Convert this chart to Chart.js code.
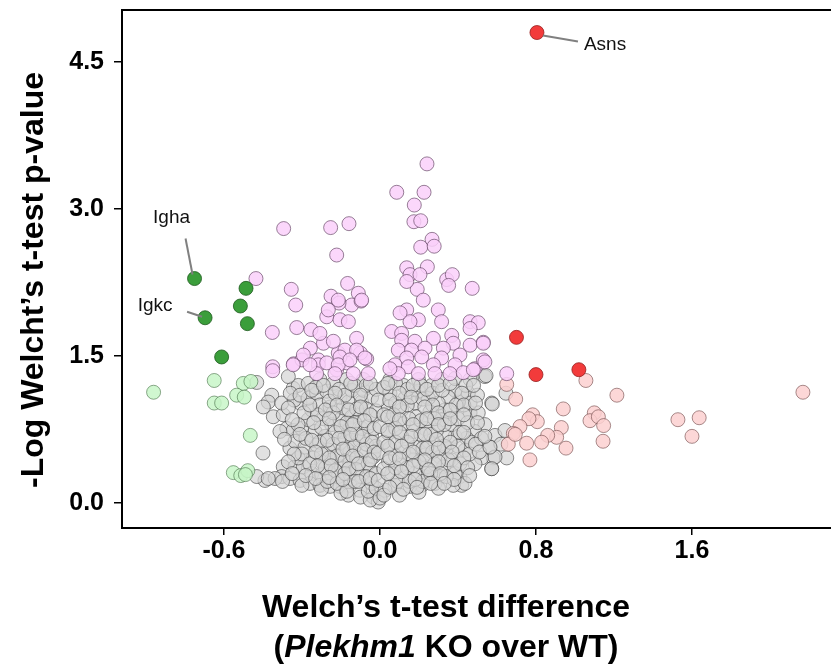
<!DOCTYPE html>
<html>
<head>
<meta charset="utf-8">
<script src="https://cdn.jsdelivr.net/npm/chart.js@4.4.1/dist/chart.umd.min.js"></script>
<style>
body { margin: 0; background: #fff; }
</style>
</head>
<body>
<canvas id="canvas_0" width="831" height="666"></canvas>
<script>
var FONT = "'Liberation Sans', Arial, sans-serif";

// axis ticks (the first tick label reads -0.6 in the original figure)
var xTickValues = [-0.8, 0, 0.8, 1.6];
var xTickLabels = ['-0.6', '0.0', '0.8', '1.6'];
var yTickValues = [0, 1.5, 3.0, 4.5];
var yTickLabels = ['0.0', '1.5', '3.0', '4.5'];

var yTitle = '-Log Welcht\u2019s t-test p-value';
var xTitle1 = 'Welch\u2019s t-test difference';
var xTitle2 = [['(', false], ['Plekhm1', true], [' KO over WT)', false]];

// significant up (red) and down (dark green) hits, [difference, -log p]
var upHits = [[0.805, 4.80], [0.70, 1.69], [0.80, 1.31], [1.02, 1.36]];
var downHits = [[-0.951, 2.29], [-0.687, 2.19], [-0.716, 2.01], [-0.897, 1.89], [-0.680, 1.83], [-0.812, 1.49]];

// named hits: [group, index, text]
var hitNames = [['up', 0, 'Asns'], ['down', 0, 'Igha'], ['down', 3, 'Igkc']];

var lightGreen = [[-1.161, 1.13], [-0.850, 1.25], [-0.701, 1.22], [-0.662, 1.24], [-0.735, 1.10], [-0.696, 1.08],
  [-0.850, 1.02], [-0.812, 1.02], [-0.665, 0.69], [-0.752, 0.31], [-0.714, 0.28], [-0.678, 0.33], [-0.69, 0.29]];

var lightRed = [[2.169, 1.13], [1.528, 0.85], [1.637, 0.87], [1.60, 0.68], [1.056, 1.25], [1.215, 1.10], [0.94, 0.96],
  [1.099, 0.92], [1.077, 0.84], [1.12, 0.88], [1.147, 0.79], [1.144, 0.63], [0.93, 0.77], [0.954, 0.56], [0.906, 0.67],
  [0.86, 0.69], [0.829, 0.62], [0.752, 0.61], [0.769, 0.44], [0.783, 0.90], [0.807, 0.83], [0.764, 0.86], [0.718, 0.78],
  [0.684, 0.71], [0.658, 0.60], [0.696, 1.06], [0.65, 1.21], [0.694, 0.70]];

var pinkPoints = [
  [-0.494, 2.80], [-0.636, 2.29], [-0.455, 2.18], [-0.432, 2.02], [-0.552, 1.74], [-0.427, 1.79], [-0.354, 1.77],
  [-0.357, 1.58], [-0.443, 1.42], [-0.40, 1.46], [-0.55, 1.39], [-0.55, 1.35],
  [-0.253, 2.81], [-0.159, 2.85], [-0.222, 2.53],
  [-0.166, 2.24], [-0.111, 2.14], [-0.145, 2.02], [-0.251, 2.11], [-0.21, 2.04], [-0.097, 2.06], [-0.273, 1.90],
  [-0.205, 1.87], [-0.162, 1.85], [-0.12, 1.68], [-0.29, 1.63], [-0.393, 1.51], [-0.316, 1.46], [-0.214, 1.53],
  [-0.171, 1.43], [-0.137, 1.32], [-0.222, 1.36], [-0.068, 1.47], [-0.10, 1.53],
  [-0.445, 1.41], [-0.308, 1.73], [-0.316, 1.41], [-0.265, 1.97], [-0.214, 2.07], [-0.239, 1.65], [-0.18, 1.56],
  [-0.12, 1.56], [-0.077, 1.48], [-0.205, 1.49], [-0.273, 1.43], [-0.214, 1.41], [-0.154, 1.46], [-0.231, 1.32],
  [-0.325, 1.32], [-0.359, 1.41], [-0.06, 1.32], [-0.094, 2.07],
  [0.241, 3.46], [0.086, 3.17], [0.226, 3.17], [0.176, 3.04], [0.174, 2.87], [0.209, 2.88], [0.267, 2.69],
  [0.209, 2.61], [0.278, 2.62], [0.137, 2.40], [0.243, 2.41], [0.154, 2.33], [0.205, 2.33], [0.191, 2.18],
  [0.342, 2.28], [0.371, 2.33], [0.352, 2.22], [0.473, 2.19],
  [0.137, 2.26], [0.222, 2.07], [0.137, 1.97], [0.299, 1.97], [0.197, 1.87], [0.154, 1.85], [0.316, 1.85],
  [0.462, 1.85], [0.504, 1.84], [0.462, 1.78], [0.06, 1.75], [0.111, 1.73], [0.368, 1.71], [0.111, 1.66],
  [0.179, 1.65], [0.274, 1.68], [0.376, 1.63], [0.462, 1.61], [0.53, 1.64], [0.094, 1.56], [0.162, 1.56],
  [0.231, 1.58], [0.325, 1.58], [0.41, 1.51], [0.137, 1.48], [0.214, 1.49], [0.316, 1.48], [0.077, 1.41],
  [0.145, 1.39], [0.274, 1.41], [0.385, 1.41], [0.487, 1.37], [0.53, 1.46], [0.094, 1.32], [0.197, 1.32],
  [0.282, 1.32], [0.359, 1.32], [0.427, 1.33], [0.051, 1.37], [0.103, 1.94], [0.538, 1.44], [0.479, 1.36],
  [0.65, 1.32], [0.53, 1.63]];

var grayPoints = [
  [-0.632, 1.23], [-0.60, 0.51], [-0.59, 0.23], [-0.632, 0.27],
  [-0.555, 1.10], [-0.573, 1.03], [-0.598, 0.98], [-0.547, 0.88], [-0.496, 0.90], [-0.504, 1.02], [-0.445, 1.17],
  [-0.419, 1.20], [-0.47, 1.29], [-0.41, 1.02], [-0.478, 0.76], [-0.445, 0.74], [-0.513, 0.73], [-0.462, 0.56],
  [-0.496, 0.37], [-0.504, 0.27], [-0.538, 0.25], [-0.573, 0.25], [-0.462, 0.25], [-0.41, 0.23], [-0.436, 0.37],
  [-0.393, 0.37], [-0.419, 0.46], [-0.436, 0.63], [-0.385, 0.57], [-0.402, 0.76], [-0.368, 0.85], [-0.35, 0.95],
  [-0.368, 1.07], [-0.368, 1.22], [-0.308, 1.26], [-0.325, 1.12], [-0.273, 1.14], [-0.308, 1.00], [-0.256, 0.98],
  [-0.29, 0.86], [-0.248, 0.80], [-0.333, 0.73], [-0.282, 0.68], [-0.325, 0.59], [-0.265, 0.54], [-0.342, 0.46],
  [-0.299, 0.42], [-0.248, 0.44], [-0.35, 0.30], [-0.299, 0.29], [-0.248, 0.29], [-0.359, 0.20], [-0.308, 0.18],
  [-0.256, 0.17], [-0.205, 0.17], [-0.214, 0.27], [-0.197, 0.37], [-0.197, 0.49], [-0.205, 0.61], [-0.197, 0.73],
  [-0.205, 0.85], [-0.188, 0.97], [-0.205, 1.08], [-0.239, 1.22], [-0.171, 1.26], [-0.162, 1.03], [-0.145, 1.15],
  [-0.145, 0.88], [-0.154, 0.76], [-0.145, 0.64], [-0.154, 0.52], [-0.154, 0.41], [-0.154, 0.29], [-0.154, 0.18],
  [-0.162, 0.08], [-0.103, 0.13], [-0.094, 0.27], [-0.103, 0.41], [-0.094, 0.51], [-0.103, 0.64], [-0.094, 0.76],
  [-0.103, 0.90], [-0.094, 1.03], [-0.085, 1.15], [-0.085, 1.26], [-0.043, 1.08], [-0.034, 0.88], [-0.043, 0.68],
  [-0.034, 0.47], [-0.051, 0.34], [-0.043, 0.20], [-0.034, 0.06], [-0.009, 0.01],
  [-0.5, 0.22], [-0.4, 0.18], [-0.3, 0.14], [-0.2, 0.10], [-0.1, 0.06], [-0.05, 0.03],
  [-0.44, 1.05], [-0.39, 0.92], [-0.42, 0.80], [-0.38, 0.66], [-0.40, 0.50], [-0.36, 0.40], [-0.38, 0.28],
  [-0.33, 1.18], [-0.32, 0.90], [-0.30, 0.77], [-0.31, 0.62], [-0.30, 0.50], [-0.28, 0.36], [-0.27, 0.22],
  [-0.26, 1.04], [-0.24, 0.92], [-0.23, 0.72], [-0.24, 0.60], [-0.22, 0.48], [-0.23, 0.33], [-0.22, 0.20],
  [-0.21, 1.16], [-0.18, 1.10], [-0.17, 0.82], [-0.18, 0.67], [-0.17, 0.55], [-0.18, 0.43], [-0.18, 0.30],
  [-0.17, 0.12], [-0.13, 1.20], [-0.12, 0.96], [-0.13, 0.82], [-0.12, 0.70], [-0.13, 0.58], [-0.12, 0.46],
  [-0.12, 0.34], [-0.13, 0.22], [-0.07, 1.20], [-0.07, 0.96], [-0.06, 0.78], [-0.07, 0.60], [-0.06, 0.40],
  [-0.07, 0.27], [-0.06, 0.12], [-0.02, 1.16], [-0.02, 0.94], [-0.02, 0.58], [-0.02, 0.30], [-0.02, 0.15],
  [-0.46, 1.12], [-0.41, 1.10], [-0.35, 1.15], [-0.29, 1.20], [-0.23, 1.12], [-0.15, 1.22], [-0.10, 1.10],
  [-0.05, 1.22], [-0.47, 0.97], [-0.36, 1.00], [-0.28, 0.95], [-0.22, 1.00], [-0.16, 0.95], [-0.10, 0.98],
  [-0.05, 0.90], [-0.45, 0.85], [-0.34, 0.82], [-0.26, 0.86], [-0.20, 0.78], [-0.14, 0.80], [-0.08, 0.84],
  [-0.03, 0.76], [-0.49, 0.65], [-0.41, 0.70], [-0.35, 0.64], [-0.27, 0.64], [-0.21, 0.66], [-0.15, 0.70],
  [-0.09, 0.68], [-0.04, 0.62], [-0.44, 0.50], [-0.33, 0.52], [-0.26, 0.46], [-0.19, 0.55], [-0.14, 0.48],
  [-0.08, 0.54], [-0.03, 0.52], [-0.47, 0.42], [-0.32, 0.38], [-0.25, 0.38], [-0.16, 0.35], [-0.11, 0.40],
  [-0.05, 0.44], [-0.45, 0.30], [-0.33, 0.25], [-0.26, 0.26], [-0.19, 0.24], [-0.11, 0.22], [-0.05, 0.25],
  [0.573, 1.02], [0.538, 0.80], [0.59, 0.69], [0.564, 0.57], [0.581, 0.46], [0.573, 0.35], [0.521, 0.46],
  [0.487, 0.40], [0.487, 0.73], [0.444, 0.66], [0.436, 0.54], [0.41, 0.27], [0.419, 0.18], [0.385, 0.30],
  [0.368, 0.44], [0.342, 0.56], [0.385, 0.68], [0.333, 0.69], [0.368, 0.80], [0.462, 0.92], [0.504, 0.92],
  [0.453, 1.12], [0.462, 1.02], [0.402, 1.03], [0.385, 1.15], [0.35, 1.08], [0.333, 0.95], [0.299, 1.02],
  [0.316, 0.85], [0.29, 0.74], [0.282, 0.59], [0.308, 0.47], [0.325, 0.37], [0.308, 0.27], [0.282, 0.20],
  [0.231, 0.27], [0.239, 0.37], [0.231, 0.49], [0.248, 0.63], [0.231, 0.76], [0.256, 0.93], [0.248, 1.07],
  [0.265, 1.20], [0.316, 1.26], [0.385, 1.27], [0.462, 1.26], [0.538, 1.29], [0.197, 1.26], [0.197, 1.14],
  [0.179, 1.02], [0.188, 0.88], [0.171, 0.73], [0.179, 0.57], [0.171, 0.44], [0.179, 0.30], [0.214, 0.18],
  [0.154, 0.17], [0.128, 0.27], [0.111, 0.39], [0.12, 0.52], [0.111, 0.68], [0.12, 0.81], [0.111, 0.95],
  [0.128, 1.07], [0.12, 1.20], [0.051, 1.26], [0.051, 1.12], [0.043, 0.98], [0.06, 0.85], [0.043, 0.71],
  [0.051, 0.56], [0.043, 0.42], [0.06, 0.30], [0.077, 0.18], [0.026, 0.13], [0.0, 0.05], [-0.009, 0.23],
  [-0.009, 0.51], [0.0, 0.78], [-0.009, 1.05], [0.376, 0.18], [0.436, 0.20], [0.1, 0.08], [0.2, 0.11], [0.3, 0.15],
  [0.02, 1.18], [0.02, 0.90], [0.02, 0.62], [0.02, 0.35], [0.02, 0.08], [0.08, 1.22], [0.08, 1.02], [0.07, 0.90],
  [0.08, 0.76], [0.08, 0.62], [0.08, 0.48], [0.08, 0.36], [0.09, 0.22], [0.14, 1.16], [0.14, 1.00], [0.15, 0.86],
  [0.14, 0.62], [0.15, 0.50], [0.14, 0.36], [0.15, 0.22], [0.21, 1.20], [0.22, 1.06], [0.21, 0.84], [0.21, 0.70],
  [0.22, 0.56], [0.20, 0.42], [0.22, 0.22], [0.27, 1.12], [0.27, 1.00], [0.28, 0.86], [0.26, 0.70], [0.27, 0.52],
  [0.28, 0.40], [0.26, 0.30], [0.32, 1.15], [0.33, 0.80], [0.33, 0.58], [0.35, 0.44], [0.34, 0.27], [0.39, 1.00],
  [0.40, 0.86], [0.41, 0.72], [0.40, 0.58], [0.41, 0.40], [0.44, 1.20], [0.45, 0.82], [0.47, 0.62], [0.46, 0.50],
  [0.50, 1.10], [0.52, 0.66], [0.62, 0.60],
  [0.04, 1.22], [0.10, 1.12], [0.17, 1.20], [0.24, 1.16], [0.30, 1.20], [0.36, 1.22], [0.42, 1.12], [0.48, 1.20],
  [0.05, 1.05], [0.10, 0.98], [0.16, 1.08], [0.23, 0.98], [0.30, 0.92], [0.36, 0.95], [0.43, 1.00], [0.49, 1.02],
  [0.04, 0.88], [0.10, 0.85], [0.17, 0.80], [0.24, 0.86], [0.30, 0.80], [0.36, 0.86], [0.43, 0.90], [0.50, 0.82],
  [0.04, 0.74], [0.10, 0.72], [0.16, 0.68], [0.23, 0.70], [0.29, 0.65], [0.36, 0.62], [0.43, 0.72], [0.49, 0.60],
  [0.04, 0.58], [0.11, 0.58], [0.17, 0.52], [0.24, 0.56], [0.30, 0.56], [0.37, 0.52], [0.43, 0.46], [0.51, 0.52],
  [0.05, 0.46], [0.10, 0.45], [0.17, 0.38], [0.23, 0.44], [0.30, 0.42], [0.38, 0.38], [0.45, 0.36],
  [0.04, 0.30], [0.11, 0.32], [0.18, 0.24], [0.25, 0.34], [0.31, 0.30], [0.38, 0.24], [0.46, 0.28],
  [0.05, 0.16], [0.12, 0.14], [0.19, 0.16], [0.26, 0.20], [0.33, 0.20],
  [0.576, 1.01], [0.544, 1.30], [0.646, 1.12], [0.641, 0.74], [0.65, 0.46], [0.59, 0.47], [0.573, 0.35],
  [0.564, 0.57], [0.538, 0.68]];

function makeSet(label, pts, fill, stroke) {
    return {
        label: label,
        data: pts.map(function (p) { return { x: p[0], y: p[1] }; }),
        backgroundColor: fill,
        borderColor: stroke,
        borderWidth: 1,
        pointRadius: 7,
        pointHoverRadius: 7
    };
}

function noPadding(s) {
    s.paddingTop = 0;
    s.paddingBottom = 0;
    s.paddingLeft = 0;
    s.paddingRight = 0;
}

// titles, frame top line and hit names
var extras = {
    id: 'extras',
    afterDraw: function (chart) {
        var ctx = chart.ctx;
        var area = chart.chartArea;
        var xs = chart.scales.x, ys = chart.scales.y;
        ctx.save();
        ctx.strokeStyle = '#000';
        ctx.lineWidth = 2;
        ctx.beginPath();
        ctx.moveTo(area.left, area.top);
        ctx.lineTo(area.right, area.top);
        ctx.stroke();

        // hit names with leader lines
        var offsets = {
            Asns: { line: [6, 3, 41, 9], text: [47, 12], align: 'left' },
            Igha: { line: [-9, -40, -2, -4], text: [-23, -61], align: 'center' },
            Igkc: { line: [-18, -6, -3, -1], text: [-50, -12], align: 'center' }
        };
        ctx.font = '19px ' + FONT;
        ctx.fillStyle = '#111';
        ctx.textBaseline = 'middle';
        hitNames.forEach(function (h) {
            var p = (h[0] == 'up' ? upHits : downHits)[h[1]];
            var px = xs.getPixelForValue(p[0]);
            var py = ys.getPixelForValue(p[1]);
            var o = offsets[h[2]];
            ctx.strokeStyle = '#808080';
            ctx.lineWidth = 2;
            ctx.beginPath();
            ctx.moveTo(px + o.line[0], py + o.line[1]);
            ctx.lineTo(px + o.line[2], py + o.line[3]);
            ctx.stroke();
            ctx.textAlign = o.align;
            ctx.fillText(h[2], px + o.text[0], py + o.text[1]);
        });

        // y title
        ctx.fillStyle = '#000';
        ctx.font = 'bold 32px ' + FONT;
        ctx.textBaseline = 'alphabetic';
        ctx.textAlign = 'center';
        ctx.save();
        ctx.translate(43, 280);
        ctx.rotate(-Math.PI / 2);
        ctx.fillText(yTitle, 0, 0);
        ctx.restore();

        // x title, two lines, gene name in italics
        ctx.fillText(xTitle1, 446, 617);
        var total = 0;
        xTitle2.forEach(function (part) {
            ctx.font = (part[1] ? 'italic ' : '') + 'bold 32px ' + FONT;
            total += ctx.measureText(part[0]).width;
        });
        var x = 446 - total / 2;
        ctx.textAlign = 'left';
        xTitle2.forEach(function (part) {
            ctx.font = (part[1] ? 'italic ' : '') + 'bold 32px ' + FONT;
            ctx.fillText(part[0], x, 657);
            x += ctx.measureText(part[0]).width;
        });
        ctx.restore();
    }
};

var ctx = document.getElementById('canvas_0');
var myChart = new Chart(ctx, {
    type: 'scatter',
    data: {
        datasets: [
            makeSet('up', upHits, '#f23b3b', 'rgba(150,30,30,0.8)'),
            makeSet('down', downHits, '#3b9e3b', 'rgba(30,90,30,0.8)'),
            makeSet('pink', pinkPoints, 'rgba(250,208,250,0.85)', 'rgba(95,65,95,0.65)'),
            makeSet('lightRed', lightRed, 'rgba(252,208,208,0.85)', 'rgba(110,70,70,0.6)'),
            makeSet('lightGreen', lightGreen, 'rgba(200,246,200,0.85)', 'rgba(70,110,70,0.6)'),
            makeSet('gray', grayPoints, 'rgba(212,212,212,0.7)', 'rgba(60,60,60,0.6)')
        ]
    },
    options: {
        responsive: false,
        animation: false,
        events: [],
        layout: { autoPadding: false, padding: { top: 10, right: 0, bottom: 0, left: 0 } },
        plugins: {
            legend: { display: false },
            tooltip: { enabled: false }
        },
        scales: {
            x: {
                type: 'linear',
                min: -1.323,
                max: 2.313,
                afterBuildTicks: function (s) { s.ticks = xTickValues.map(function (v) { return { value: v }; }); },
                afterFit: function (s) { s.height = 138; noPadding(s); },
                grid: { drawOnChartArea: false, drawTicks: true, tickLength: 7, color: '#000', lineWidth: 1.5 },
                border: { display: true, color: '#000', width: 2 },
                ticks: {
                    autoSkip: false, maxRotation: 0, padding: 1, color: '#000',
                    font: { family: FONT, size: 25, weight: 'bold' },
                    callback: function (v, i) { return xTickLabels[i]; }
                }
            },
            y: {
                type: 'linear',
                min: -0.255,
                max: 5.03,
                afterBuildTicks: function (s) { s.ticks = yTickValues.map(function (v) { return { value: v }; }); },
                afterFit: function (s) { s.width = 122; noPadding(s); },
                grid: { drawOnChartArea: false, drawTicks: true, tickLength: 8, color: '#000', lineWidth: 1.5 },
                border: { display: true, color: '#000', width: 2 },
                ticks: {
                    autoSkip: false, padding: 10, color: '#000',
                    font: { family: FONT, size: 25, weight: 'bold' },
                    callback: function (v, i) { return yTickLabels[i]; }
                }
            }
        }
    },
    plugins: [extras]
});
</script>
</body>
</html>
